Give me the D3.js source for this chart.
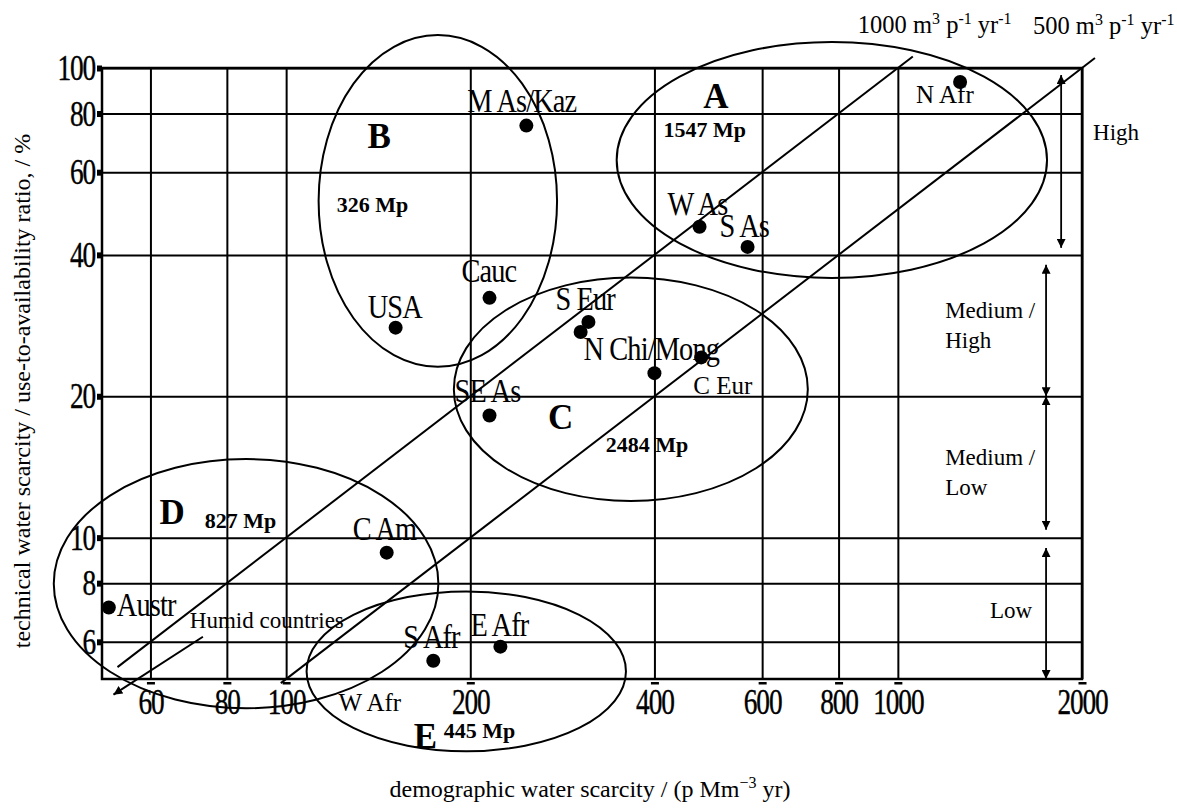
<!DOCTYPE html>
<html lang="en">
<head>
<meta charset="utf-8">
<title>Water scarcity</title>
<script src="https://d3js.org/d3.v7.min.js"></script>
<style>
  body { margin: 0; background: #fff; }
  svg text { font-family: "Liberation Serif", "Times New Roman", serif; fill: #000; }
</style>
</head>
<body>
<script>
// ---- data ----
var xTicks = [60, 80, 100, 200, 400, 600, 800, 1000, 2000];
var yTicks = [6, 8, 10, 20, 40, 60, 80, 100];

var regions = ["N Afr", "M As/Kaz", "W As", "S As", "Cauc", "USA", "S Eur", "", "N Chi/Mong", "C Eur", "SE As", "C Am", "Austr", "S Afr", "E Afr"];
var demographic = [1264, 247, 474, 568, 215, 151, 312, 303, 400, 477, 215, 146, 51.3, 174, 224];   // p Mm-3 yr
var technical = [93.4, 75.4, 45.9, 41.6, 32.4, 28.0, 28.8, 27.4, 22.4, 24.2, 18.2, 9.29, 7.1, 5.47, 5.86]; // %

// clusters: ellipse centre + left / top extent, in data units
var groupNames = ["A", "B", "C", "D", "E"];
var groupPop = ["1547 Mp", "326 Mp", "2484 Mp", "827 Mp", "445 Mp"];
var groupCx = [780, 177, 366, 86, 197];
var groupCy = [63.7, 52.1, 20.7, 7.98, 5.19];
var groupLeft = [347, 113, 188, 41.7, 108];
var groupTop = [113.6, 117.5, 35.8, 14.7, 7.68];
var groupLetterX = [504, 142, 281, 65.1, 169];
var groupLetterY = [82.2, 67.6, 17.0, 10.7, 3.56];
var groupPopX = [414, 121, 333, 73.6, 181];
var groupPopY = [71.3, 49.4, 15.2, 10.5, 3.75];

// per capita water use lines (m3 p-1 yr-1), y% = x * use / 1e4
var perCapita = [1000, 500];
var perCapitaLabels = ["1000 m^3^ p^-1^ yr^-1^", "500 m^3^ p^-1^ yr^-1^"];
var perCapitaFrom = [53, 98];
var perCapitaTo = [1058, 2100];

// scarcity bands on the right
var bandNames = [["High"], ["Medium /", "High"], ["Medium /", "Low"], ["Low"]];
var bandTop = [96.6, 38.1, 20, 9.5];
var bandBottom = [41.4, 20, 10.4, 5.0];
var bandX = [1849, 1747, 1747, 1747];
var bandLabelX = [2085, 1195, 1195, 1414];
var bandLabelY = [70.3, 29.4, 14.3, 6.74];

// free annotations
var humidFrom = [73.1, 6.15], humidTo = [52.2, 4.63], humidText = [69.6, 6.43];
var wAfrPos = [137, 4.27];

// ---- layout ----
var W = 1177, H = 808;
var plotL = 102, plotR = 1082, plotT = 68, plotB = 679;

var svg = d3.select("body").append("svg")
  .attr("width", W)
  .attr("height", H);

var defs = svg.append("defs");
["end", "start"].forEach(function(k) {
  defs.append("marker")
    .attr("id", "arr-" + k)
    .attr("viewBox", "0 0 10 10")
    .attr("refX", 10).attr("refY", 5)
    .attr("markerWidth", 9).attr("markerHeight", 9)
    .attr("markerUnits", "userSpaceOnUse")
    .attr("orient", k == "end" ? "auto" : "auto-start-reverse")
    .append("path")
    .attr("d", "M0,0 L10,5 L0,10 z")
    .attr("fill", "#000");
});

var x = d3.scaleLog().domain([50, 2000]).range([plotL, plotR]);
var y = d3.scaleLog().domain([5, 100]).range([plotB, plotT]);

var sx = 0.76; // the digits in the original are squeezed

// gridlines + tick labels
var gx = svg.append("g")
  .attr("transform", "translate(0," + plotB + ")")
  .call(d3.axisBottom(x).tickValues(xTicks).tickFormat(d3.format("d"))
    .tickSize(-(plotB - plotT)).tickPadding(9));
var gy = svg.append("g")
  .attr("transform", "translate(" + plotL + ",0)")
  .call(d3.axisLeft(y).tickValues(yTicks).tickFormat(d3.format("d"))
    .tickSize(-(plotR - plotL)).tickPadding(7));

[gx, gy].forEach(function(g) {
  g.select(".domain").remove();
  g.selectAll(".tick line").attr("stroke", "#000").attr("stroke-width", 2);
  g.selectAll(".tick text")
    .attr("font-family", "Liberation Serif")
    .attr("font-size", 36)
    .attr("letter-spacing", -1.5)
    .attr("stroke", "#000").attr("stroke-width", 0.4)
    .attr("transform", "scale(" + sx + ",1)");
});
gy.selectAll(".tick text").attr("x", -7 / sx);

// little tick marks outside the frame
gy.selectAll(".tick").append("rect")
  .attr("x", -5).attr("y", -3).attr("width", 5).attr("height", 6).attr("fill", "#000");
gx.selectAll(".tick").append("rect")
  .attr("x", -4).attr("y", 3).attr("width", 8).attr("height", 2.5).attr("fill", "#000");

// frame
svg.append("rect")
  .attr("x", plotL).attr("y", plotT)
  .attr("width", plotR - plotL).attr("height", plotB - plotT)
  .attr("fill", "none").attr("stroke", "#000").attr("stroke-width", 2.5);

// per capita lines
var lineGen = d3.line().x(function(d) { return x(d[0]); }).y(function(d) { return y(d[1]); });
perCapita.forEach(function(pc, i) {
  var pts = [perCapitaFrom[i], perCapitaTo[i]].map(function(v) { return [v, v * pc / 1e4]; });
  svg.append("path")
    .attr("d", lineGen(pts))
    .attr("fill", "none").attr("stroke", "#000").attr("stroke-width", 2);
});

function addRich(text, str, supSize, off) {
  var raised = false;
  str.split("^").forEach(function(p, i) {
    if (!p) return;
    var sup = i % 2 == 1;
    var t = text.append("tspan").text(p);
    if (sup && !raised) { t.attr("dy", -off); raised = true; }
    else if (!sup && raised) { t.attr("dy", off); raised = false; }
    if (sup) t.attr("font-size", supSize);
  });
}

perCapitaLabels.forEach(function(lab, i) {
  var xe = perCapitaTo[i], ye = xe * perCapita[i] / 1e4;
  var t = svg.append("text")
    .attr("x", x(xe) - (i == 0 ? 55 : 62))
    .attr("y", y(ye) - 24)
    .attr("font-size", 24.5);
  addRich(t, lab, 16, 9);
});

// cluster ellipses
groupNames.forEach(function(g, i) {
  svg.append("ellipse")
    .attr("cx", x(groupCx[i])).attr("cy", y(groupCy[i]))
    .attr("rx", x(groupCx[i]) - x(groupLeft[i]))
    .attr("ry", y(groupCy[i]) - y(groupTop[i]))
    .attr("fill", "none").attr("stroke", "#000").attr("stroke-width", 2);
  svg.append("text")
    .attr("x", x(groupLetterX[i])).attr("y", y(groupLetterY[i]))
    .attr("text-anchor", "middle")
    .attr("font-size", 35).attr("font-weight", "bold")
    .text(g);
  svg.append("text")
    .attr("x", x(groupPopX[i])).attr("y", y(groupPopY[i]))
    .attr("font-size", 22).attr("font-weight", "bold")
    .text(groupPop[i]);
});

// scarcity bands
bandNames.forEach(function(lines, i) {
  svg.append("line")
    .attr("x1", x(bandX[i])).attr("x2", x(bandX[i]))
    .attr("y1", y(bandTop[i])).attr("y2", y(bandBottom[i]))
    .attr("stroke", "#000").attr("stroke-width", 1.8)
    .attr("marker-start", "url(#arr-start)")
    .attr("marker-end", "url(#arr-end)");
  var t = svg.append("text")
    .attr("x", x(bandLabelX[i])).attr("y", y(bandLabelY[i]))
    .attr("font-size", 23);
  lines.forEach(function(l, j) {
    t.append("tspan").attr("x", x(bandLabelX[i])).attr("dy", j ? 30 : 0).text(l);
  });
});

// humid countries arrow
svg.append("line")
  .attr("x1", x(humidFrom[0])).attr("y1", y(humidFrom[1]))
  .attr("x2", x(humidTo[0])).attr("y2", y(humidTo[1]))
  .attr("stroke", "#000").attr("stroke-width", 2)
  .attr("marker-end", "url(#arr-end)");
svg.append("text")
  .attr("x", x(humidText[0])).attr("y", y(humidText[1]))
  .attr("font-size", 23)
  .text("Humid countries");

// points
var labelDx = [-44, -59, -32, -28, -28, -28, -33, 0, -71, -8, -35, -34, 8, -30, -30];
var labelDy = [21, -14, -12, -10, -16, -10, -12, 0, -13, 37, -13, -13, 9, -13, -11];
var smallLabels = ["N Afr", "C Eur"];

regions.forEach(function(r, i) {
  var px = x(demographic[i]), py = y(technical[i]);
  svg.append("circle")
    .attr("cx", px).attr("cy", py).attr("r", 7).attr("fill", "#000");
  if (!r) return;
  var small = smallLabels.indexOf(r) >= 0;
  svg.append("text")
    .attr("transform", "translate(" + (px + labelDx[i]) + "," + (py + labelDy[i]) + ")" + (small ? "" : " scale(0.86,1)"))
    .attr("font-size", small ? 25 : 33)
    .attr("letter-spacing", small ? 0 : -1)
    .text(r);
});

svg.append("text")
  .attr("x", x(wAfrPos[0])).attr("y", y(wAfrPos[1]))
  .attr("text-anchor", "middle")
  .attr("font-size", 25)
  .text("W Afr");

// axis titles
var xt = svg.append("text")
  .attr("x", 590).attr("y", 797)
  .attr("text-anchor", "middle")
  .attr("font-size", 24);
addRich(xt, "demographic water scarcity / (p Mm^\u22123^ yr)", 16, 9);

svg.append("text")
  .attr("transform", "translate(30,391) rotate(-90)")
  .attr("text-anchor", "middle")
  .attr("font-size", 24)
  .text("technical water scarcity / use-to-availability ratio, / %");
</script>
</body>
</html>
